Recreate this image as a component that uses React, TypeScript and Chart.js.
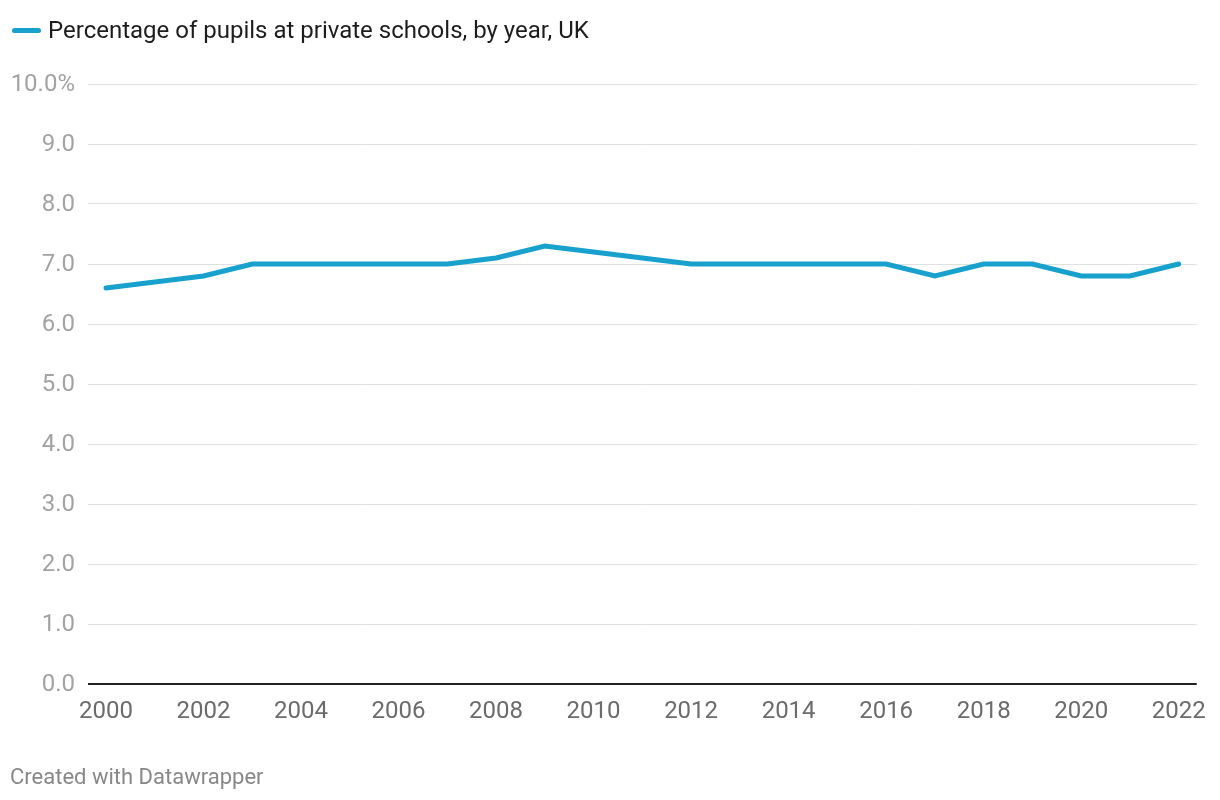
import React, { useEffect, useRef } from "react";
import { Chart, registerables } from "chart.js";

Chart.register(...registerables);

const years: number[] = [2000, 2001, 2002, 2003, 2004, 2005, 2006, 2007, 2008, 2009, 2010, 2011, 2012, 2013, 2014, 2015, 2016, 2017, 2018, 2019, 2020, 2021, 2022];
const privateShare: number[] = [6.6, 6.7, 6.8, 7.0, 7.0, 7.0, 7.0, 7.0, 7.1, 7.3, 7.2, 7.1, 7.0, 7.0, 7.0, 7.0, 7.0, 6.8, 7.0, 7.0, 6.8, 6.8, 7.0];
const xTickYears: number[] = [2000, 2002, 2004, 2006, 2008, 2010, 2012, 2014, 2016, 2018, 2020, 2022];
const yTickValues: number[] = [0, 1, 2, 3, 4, 5, 6, 7, 8, 9, 10];
const seriesLabel = "Percentage of pupils at private schools, by year, UK";
const footerText = "Created with Datawrapper";

const LINE_COLOR = "#18a1cd";
const FONT = "Roboto, 'Noto Sans', sans-serif";

export default function App() {
  const canvasRef = useRef<HTMLCanvasElement | null>(null);

  useEffect(() => {
    document.body.style.margin = "0";
    const canvas = canvasRef.current;
    if (!canvas) return;
    const chart = new Chart(canvas, {
      type: "line",
      data: {
        datasets: [
          {
            label: seriesLabel,
            data: years.map((y, i) => ({ x: y, y: privateShare[i] })),
            borderColor: LINE_COLOR,
            backgroundColor: LINE_COLOR,
            borderWidth: 5,
            pointRadius: 0,
            pointHoverRadius: 0,
            tension: 0,
            borderCapStyle: "round",
            borderJoinStyle: "miter",
          },
        ],
      },
      options: {
        animation: false,
        responsive: false,
        maintainAspectRatio: false,
        events: [],
        layout: { padding: { top: 84, right: 22, bottom: 0, left: 0 } },
        plugins: {
          legend: { display: false },
          tooltip: { enabled: false },
          title: { display: false },
        },
        scales: {
          x: {
            type: "linear",
            min: 2000 - 0.37,
            max: 2022 + 0.37,
            afterBuildTicks: (scale: any) => {
              scale.ticks = xTickYears.map((v) => ({ value: v }));
            },
            afterFit: (scale: any) => {
              scale.height = 116;
            },
            grid: { display: false, drawTicks: false },
            border: { display: false },
            ticks: {
              autoSkip: false,
              maxRotation: 0,
              padding: 14,
              color: "#6b6b6b",
              font: { family: FONT, size: 24 },
              callback: (v: any) => String(v),
            },
          },
          y: {
            type: "linear",
            min: 0,
            max: 10,
            afterBuildTicks: (scale: any) => {
              scale.ticks = yTickValues.map((v) => ({ value: v }));
            },
            afterFit: (scale: any) => {
              scale.width = 88;
            },
            grid: {
              drawTicks: false,
              color: (ctx: any) => (ctx.tick && ctx.tick.value === 0 ? "#222" : "#e0e0e0"),
              lineWidth: (ctx: any) => (ctx.tick && ctx.tick.value === 0 ? 2 : 1),
            },
            border: { display: false },
            ticks: {
              padding: 13,
              labelOffset: 1,
              color: "#a3a3a3",
              font: { family: FONT, size: 24 },
              callback: (v: any) => (Number(v) === 10 ? "10.0%" : Number(v).toFixed(1)),
            },
          },
        },
      },
    });
    return () => chart.destroy();
  }, []);

  return (
    <div style={{ position: "relative", width: 1220, height: 800, background: "#fff", fontFamily: FONT }}>
      <canvas ref={canvasRef} width={1220} height={800} style={{ position: "absolute", left: 0, top: 0 }} />
      <div style={{ position: "absolute", left: 12, top: 16, height: 28, display: "flex", alignItems: "center" }}>
        <span style={{ display: "inline-block", width: 29, height: 5, borderRadius: 3, background: LINE_COLOR, marginRight: 7 }} />
        <span style={{ fontSize: 24, color: "#1d1d1d", lineHeight: "28px" }}>{seriesLabel}</span>
      </div>
      <div style={{ position: "absolute", left: 10, top: 764, fontSize: 22, color: "#888", lineHeight: "26px" }}>{footerText}</div>
    </div>
  );
}
